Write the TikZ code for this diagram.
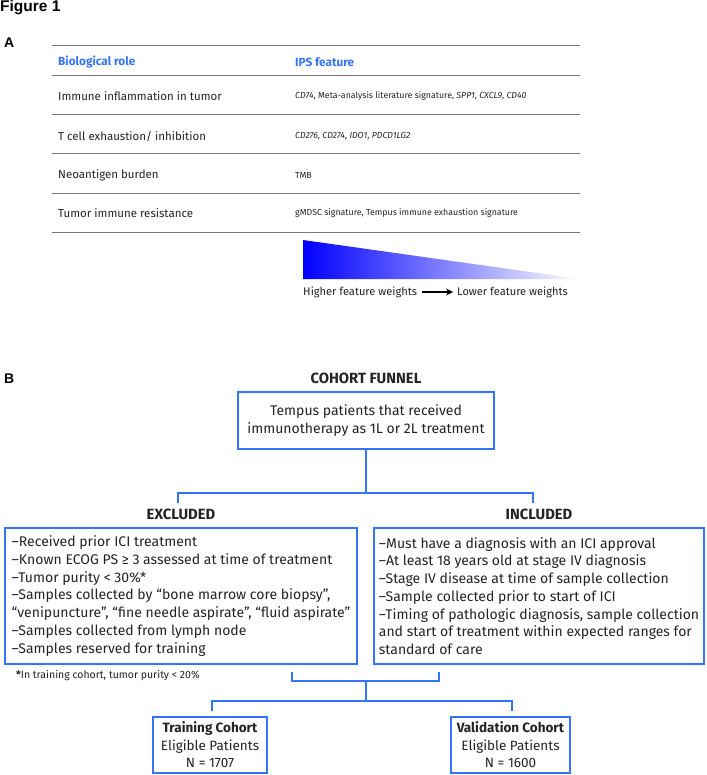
\documentclass[tikz,border=0pt]{standalone}
\usepackage{fontspec}
\setmainfont{Fira Sans}
\newfontfamily\arialfont{Liberation Sans}
\usetikzlibrary{arrows.meta}
\definecolor{plexblue}{RGB}{52,117,245}
\definecolor{rulegray}{RGB}{120,120,120}
\definecolor{txt}{RGB}{35,35,35}
\definecolor{pureblue}{RGB}{0,0,255}
\begin{document}
\begin{tikzpicture}[x=1pt,y=-1pt,
  fbox/.style={draw=plexblue, line width=2.6pt, inner sep=0pt, align=left, text=txt,
    font=\fontsize{14}{17.7}\selectfont},
  cbox/.style={draw=plexblue, line width=2.6pt, inner sep=0pt, align=center, text=txt,
    font=\fontsize{13.5}{17.5}\selectfont},
  conn/.style={draw=plexblue, line width=2.6pt},
  rowrule/.style={draw=rulegray, line width=1pt},
  roletext/.style={anchor=west, text=txt, inner sep=0pt, font=\fontsize{11.5}{13}\selectfont},
  legtext/.style={anchor=west, text=txt, inner sep=0pt, font=\fontsize{11.1}{14}\selectfont},
  feattext/.style={anchor=west, text=txt, inner sep=0pt, font=\fontsize{8.8}{10}\selectfont},
  headtext/.style={anchor=west, text=plexblue, inner sep=0pt, font=\fontsize{11.8}{13}\selectfont\bfseries},
  grouphead/.style={text=txt, inner sep=0pt, font=\fontsize{14.8}{16}\selectfont\bfseries},
  panel/.style={anchor=west, inner sep=0pt, font=\arialfont\fontsize{14}{16}\selectfont\bfseries}
]
\useasboundingbox (0,0) rectangle (706,775);

% ---- titles
\node[anchor=west, inner sep=0pt, font=\arialfont\fontsize{15.5}{18}\selectfont\bfseries] (fig) at (0,8) {Figure 1};
\node[panel] (pa) at (4,43) {A};
\node[panel] (pb) at (4,379) {B};

% ---- table A
\foreach \yy in {46,76,115,154,194,233} {
  \draw[rowrule] (52,\yy) -- (580,\yy);
}
\node[headtext] (h1) at (58,62) {Biological role};
\node[headtext] (h2) at (295,62) {IPS feature};
\node[roletext] (r1) at (58,96) {Immune inflammation in tumor};
\node[feattext] (f1) at (295,96) {\textit{CD74}, Meta-analysis literature signature, \textit{SPP1}, \textit{CXCL9}, \textit{CD40}};
\node[roletext] (r2) at (58,136) {T cell exhaustion/ inhibition};
\node[feattext] (f2) at (295,136) {\textit{CD276}, \textit{CD274}, \textit{IDO1}, \textit{PDCD1LG2}};
\node[roletext] (r3) at (58,175) {Neoantigen burden};
\node[feattext] (f3) at (295,175) {TMB};
\node[roletext] (r4) at (58,213) {Tumor immune resistance};
\node[feattext] (f4) at (295,213) {gMDSC signature, Tempus immune exhaustion signature};

% ---- gradient legend
\shade[left color=pureblue, right color=white] (303,240) -- (580,279) -- (303,279) -- cycle;
\node[legtext] (hi) at (303,292) {Higher feature weights};
\node[legtext, anchor=east] (lo) at (568,292) {Lower feature weights};
\draw[line width=1.2pt, -{Stealth[length=7pt,width=7pt]}, shorten <=5pt, shorten >=4pt] (hi) -- (lo);

% ---- cohort funnel B
\node[grouphead] (funnel) at (366,378) {COHORT FUNNEL};
\node[cbox, minimum width=256, minimum height=57, font=\fontsize{14}{17.7}\selectfont] (top) at (366,420.5)
  {Tempus patients that received\\immunotherapy as 1L or 2L treatment};

\coordinate (j1) at (366,493);
\coordinate (exTick) at (178,503);
\coordinate (inTick) at (533,503);
\draw[conn] (top.south) -- (j1);
\draw[conn] (exTick) -- (exTick |- j1) -- (inTick |- j1) -- (inTick);

\node[grouphead] (exh) at (181,514) {EXCLUDED};
\node[grouphead] (inh) at (539,514) {INCLUDED};

\node[fbox, minimum width=352, minimum height=136] (excl) at (181,596)
  {–Received prior ICI treatment\\
   –Known ECOG PS ≥ 3 assessed at time of treatment\\
   –Tumor purity < 30\%*\\
   –Samples collected by “bone marrow core biopsy”,\\
   “venipuncture”, “fine needle aspirate”, “fluid aspirate”\\
   –Samples collected from lymph node\\
   –Samples reserved for training};
\node[fbox, minimum width=330, minimum height=136] (incl) at (539,596)
  {–Must have a diagnosis with an ICI approval\\
   –At least 18 years old at stage IV diagnosis\\
   –Stage IV disease at time of sample collection\\
   –Sample collected prior to start of ICI\\
   –Timing of pathologic diagnosis, sample collection\\
   and start of treatment within expected ranges for\\
   standard of care};

\node[anchor=west, inner sep=0pt, text=txt, font=\fontsize{10.5}{12}\selectfont] (foot) at (16,676)
  {\textbf{*}In training cohort, tumor purity < 20\%};

% lower bracket
\coordinate (exB) at (292,672);
\coordinate (inB) at (439,672);
\coordinate (j2) at (366,681);
\coordinate (j3) at (366,701);
\coordinate (trTick) at (212,711);
\coordinate (vaTick) at (512,711);
\draw[conn] (exB) -- (exB |- j2) -- (inB |- j2) -- (inB);
\draw[conn] (j2) -- (j3);
\draw[conn] (trTick) -- (trTick |- j3) -- (vaTick |- j3) -- (vaTick);

\node[cbox, minimum width=114, minimum height=56] (train) at (210,745)
  {\textbf{Training Cohort}\\Eligible Patients\\N = 1707};
\node[cbox, minimum width=119, minimum height=56] (valid) at (510.5,745)
  {\textbf{Validation Cohort}\\Eligible Patients\\N = 1600};
\end{tikzpicture}
\end{document}
